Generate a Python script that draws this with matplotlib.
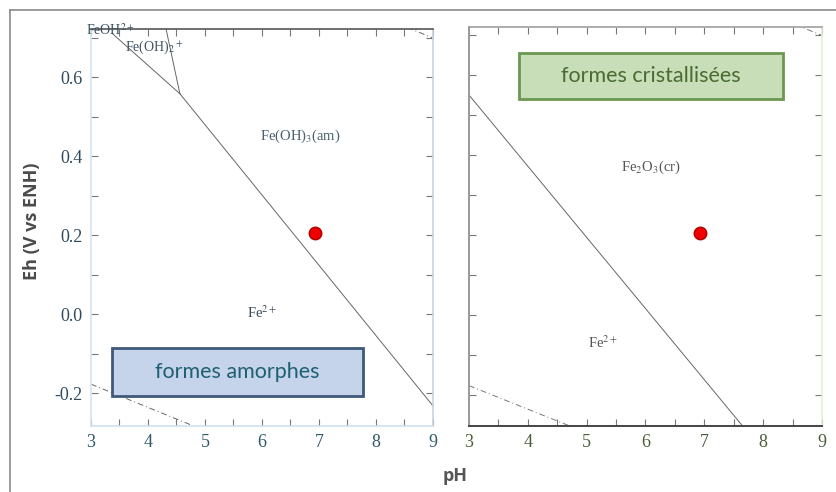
import matplotlib
matplotlib.use('Agg')
import matplotlib.pyplot as plt
from matplotlib.patches import Rectangle
from matplotlib.lines import Line2D
from matplotlib.ticker import MultipleLocator

ph_am = [4.56, 9.0]
eh_am = [0.558, -0.232]
ph_feoh = [3.37, 4.56]
eh_feoh = [0.711, 0.558]
ph_feoh2 = [4.32, 4.56]
eh_feoh2 = [0.72, 0.558]
ph_cr = [3.0, 7.64]
eh_cr = [0.55, -0.276]
ph_eau_bas = [3.0, 4.75]
eh_eau_bas = [-0.177, -0.28]
ph_eau_haut = [8.55, 9.0]
eh_eau_haut = [0.726, 0.699]
point_ph = [6.93]
point_eh = [0.205]

plt.rcParams['mathtext.fontset'] = 'stix'
serif = 'Liberation Serif'

fig = plt.figure(figsize=(8.37, 4.92), dpi=100)

# cadre gris autour de la figure
fig.add_artist(Line2D([10/837, 1], [1-10/492, 1-10/492], color='#8a8a8a', lw=1.2))
fig.add_artist(Line2D([10/837, 10/837], [0, 1-10/492], color='#8a8a8a', lw=1.2))

ax1 = fig.add_axes([0.1087, 0.1341, 0.4086, 0.807])
ax2 = fig.add_axes([0.5603, 0.1341, 0.4217, 0.811])


def style_axe(ax, ylim, col_lab, spines):
    ax.set_xlim(3, 9)
    ax.set_ylim(*ylim)
    ax.xaxis.set_major_locator(MultipleLocator(1))
    ax.xaxis.set_minor_locator(MultipleLocator(0.5))
    ax.yaxis.set_major_locator(MultipleLocator(0.2))
    ax.yaxis.set_minor_locator(MultipleLocator(0.1))
    ax.tick_params(which='both', direction='in', top=True, right=True,
                   length=5, width=0.8, color='#777777')
    ax.tick_params(axis='x', labelsize=13, labelcolor=col_lab, pad=6)
    ax.tick_params(axis='y', labelsize=13, labelcolor='#2e4a5e', pad=6)
    for lab in ax.get_xticklabels() + ax.get_yticklabels():
        lab.set_fontfamily(serif)
    for cote, (c, w) in spines.items():
        ax.spines[cote].set_color(c)
        ax.spines[cote].set_linewidth(w)


# --- formes amorphes ---
style_axe(ax1, (-0.283, 0.722), '#2e5a6a',
          {'left': ('#d3e5f2', 1.2), 'bottom': ('#cfe1ee', 1.2),
           'top': ('#555555', 1.2), 'right': ('#c8d4dc', 1.2)})
ax1.yaxis.set_major_formatter(lambda v, p: '%.1f' % v)
ax1.plot(ph_am, eh_am, color='#666666', lw=0.7)
ax1.plot(ph_feoh, eh_feoh, color='#666666', lw=0.7)
ax1.plot(ph_feoh2, eh_feoh2, color='#666666', lw=0.7)
ax1.plot(ph_eau_bas, eh_eau_bas, color='#666666', lw=0.7, ls=(0, (6, 3, 1, 3)))
ax1.plot(ph_eau_haut, eh_eau_haut, color='#666666', lw=0.7, ls=(0, (6, 3, 1, 3)))
ax1.plot(point_ph, point_eh, 'o', color='#ee0000', mec='#b00000', ms=9)
ax1.text(6.67, 0.45, 'Fe(OH)$_3$(am)', fontsize=10.5, color='#4a6070',
         family=serif, ha='center', va='center')
ax1.text(6.0, 0.005, 'Fe$^{2+}$', fontsize=10.5, color='#3a4a58',
         family=serif, ha='center', va='center')
ax1.text(2.91, 0.718, 'FeOH$^{2+}$', fontsize=10, color='#3a5060',
         family=serif, ha='left', va='center', clip_on=False)
ax1.text(3.6, 0.676, 'Fe(OH)$_2$$^+$', fontsize=10, color='#3a5060',
         family=serif, ha='left', va='center')

# --- formes cristallisées ---
style_axe(ax2, (-0.278, 0.72), '#4b5e3a',
          {'left': ('#9a9a9a', 1.4), 'bottom': ('#444444', 1.4),
           'top': ('#a0a0a0', 1.2), 'right': ('#e2f0d6', 1.2)})
ax2.tick_params(axis='y', labelleft=False)
ax2.plot(ph_cr, eh_cr, color='#666666', lw=0.7)
ax2.plot(ph_eau_bas, eh_eau_bas, color='#777777', lw=0.7, ls=(0, (6, 3, 1, 3)))
ax2.plot(ph_eau_haut, eh_eau_haut, color='#777777', lw=0.7, ls=(0, (6, 3, 1, 3)))
ax2.plot(point_ph, point_eh, 'o', color='#ee0000', mec='#b00000', ms=9)
ax2.text(6.1, 0.37, 'Fe$_2$O$_3$(cr)', fontsize=10.5, color='#555555',
         family=serif, ha='center', va='center')
ax2.text(5.28, -0.07, 'Fe$^{2+}$', fontsize=10.5, color='#555555',
         family=serif, ha='center', va='center')

# encadrés
fig.add_artist(Rectangle((0.1338, 0.1951), 0.2999, 0.0976, transform=fig.transFigure,
                         facecolor='#c5d4ea', edgecolor='#3e5a78', lw=2))
fig.text(0.2832, 0.2439, 'formes amorphes', fontsize=15.5, color='#1f5f72',
         family='Lato', ha='center', va='center')
fig.add_artist(Rectangle((0.6201, 0.7988), 0.3154, 0.0935, transform=fig.transFigure,
                         facecolor='#c8deb8', edgecolor='#6a9850', lw=2))
fig.text(0.7778, 0.8455, 'formes cristallisées', fontsize=15.5, color='#4a6a32',
         family='Lato', ha='center', va='center')

# titres des axes
fig.text(0.038, 0.55, 'Eh (V vs ENH)', rotation=90, fontsize=13, fontweight='bold',
         color='#4a4a4a', family='Open Sans', ha='center', va='center')
fig.text(0.5436, 0.033, 'pH', fontsize=13, fontweight='bold',
         color='#555555', family='Open Sans', ha='center', va='center')

fig.savefig('out.png', dpi=100)
